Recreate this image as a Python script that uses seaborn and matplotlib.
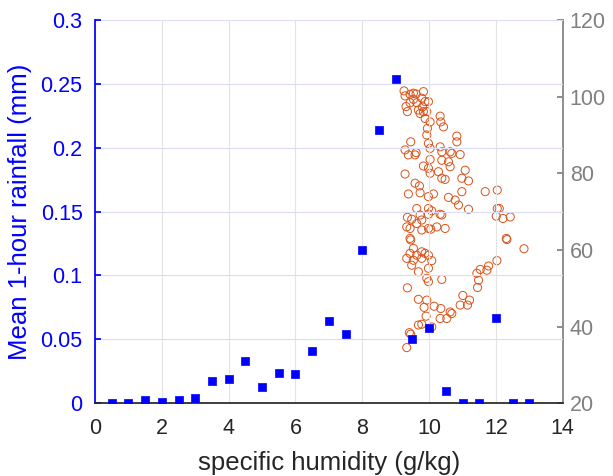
import matplotlib
matplotlib.use("Agg")
import matplotlib.pyplot as plt
import seaborn as sns
import pandas as pd

sns.set_theme(style="white")
plt.rcParams['font.family'] = ['Liberation Sans', 'DejaVu Sans']

# binned mean rainfall vs specific humidity (left axis)
hum_bins = [0.5, 1, 1.5, 2, 2.5, 3, 3.5, 4, 4.5, 5, 5.5, 6, 6.5,
            7, 7.5, 8, 8.5, 9, 9.5, 10, 10.5, 11, 11.5, 12, 12.5, 13]
mean_rain = [0.0, 0.0, 0.0026, 0.0008, 0.0026, 0.0037, 0.0175, 0.019, 0.0327,
             0.013, 0.024, 0.023, 0.0406, 0.064, 0.054, 0.12, 0.2135, 0.254,
             0.050, 0.059, 0.0097, 0.0, 0.0, 0.067, 0.0, 0.0]

# individual events (right axis)
event_q = [9.25, 9.28, 9.53, 9.61, 9.83, 9.78, 9.53, 9.43, 9.31, 9.35,
           9.63, 9.88, 9.98, 9.68, 9.83, 9.93, 9.88, 10.03, 10.33, 10.35,
           10.43, 9.95, 9.93, 9.45, 10.83, 10.83, 9.98, 10.03, 9.28, 9.38,
           9.58, 9.61, 10.33, 10.38, 10.63, 10.68, 10.93, 10.03, 9.83, 10.38,
           10.58, 10.63, 11.08, 9.28, 9.98, 10.03, 10.28, 10.38, 10.48, 10.98,
           11.18, 9.58, 9.71, 10.98, 9.43, 9.73, 9.80,
           9.38, 9.73, 9.98, 10.13, 10.58, 10.78, 10.88, 11.18, 11.68, 12.04,
           12.04, 12.10, 12.01, 12.21, 12.43, 9.63, 9.98, 10.08, 10.33, 10.38,
           9.35, 9.48, 9.73, 9.78, 9.98, 9.33, 9.43, 9.63, 9.78, 9.98,
           10.05, 10.23, 10.48, 9.43, 9.45, 9.53, 9.43, 9.63, 9.78, 9.88,
           9.98, 9.33, 9.53, 9.78, 10.08, 9.48, 9.68, 9.98, 9.93, 9.98,
           10.38, 9.35, 12.31, 12.33, 12.84, 12.03, 11.78, 11.73, 11.53, 11.43,
           11.48, 11.45, 11.01, 11.21, 11.15, 10.93, 9.68, 9.93, 9.85, 10.15,
           10.35, 10.63, 10.68, 10.53, 10.33, 9.91, 9.68, 9.78, 10.08, 9.41,
           9.45, 9.33]
event_rain = [101.5, 100.2, 100.9, 100.7, 101.3, 99.6, 99.3, 98.4, 97.4, 96.1,
              98.4, 98.7, 98.7, 96.5, 96.1, 96.1, 94.3, 93.4, 94.9, 93.4,
              92.1, 91.7, 90.0, 88.2, 89.7, 88.2, 87.8, 86.5, 86.1, 84.8,
              84.8, 85.4, 86.9, 85.6, 85.6, 85.2, 84.9, 83.6, 81.9, 83.4,
              83.0, 81.7, 80.8, 79.8, 81.3, 80.0, 80.4, 78.7, 78.4, 78.7,
              78.0, 77.4, 76.7, 75.2, 100.6, 95.6, 97.3,
              74.6, 74.9, 73.9, 74.6, 73.7, 73.0, 71.7, 70.6, 75.2, 75.6,
              70.8, 70.8, 68.8, 68.2, 68.6, 70.8, 70.8, 70.2, 69.3, 69.1,
              68.5, 68.0, 69.1, 67.8, 69.3, 66.0, 65.6, 66.9, 65.2, 65.6,
              65.4, 66.0, 65.6, 63.0, 62.6, 60.4, 59.1, 58.6, 59.5, 59.1,
              58.6, 57.8, 57.3, 57.8, 57.2, 56.0, 54.3, 55.2, 52.6, 51.7,
              52.3, 50.1, 63.0, 62.7, 60.3, 57.2, 55.8, 54.7, 54.9, 53.9,
              52.1, 50.2, 48.1, 46.9, 45.6, 45.6, 47.1, 46.9, 45.0, 45.3,
              44.7, 43.8, 43.4, 42.1, 42.1, 42.7, 40.4, 40.6, 39.9, 38.4,
              38.0, 34.5]

bins_df = pd.DataFrame({'q': hum_bins, 'rain': mean_rain})
events_df = pd.DataFrame({'q': event_q, 'rain': event_rain})

fig = plt.figure(figsize=(6.13, 4.76), dpi=100)
ax = fig.add_axes([0.155, 0.153, 0.763, 0.805])
ax2 = ax.twinx()

sns.scatterplot(data=events_df, x='q', y='rain', ax=ax2, marker='o', s=34,
                facecolors='none', edgecolor='#D95319', linewidth=0.7)
sns.scatterplot(data=bins_df, x='q', y='rain', ax=ax, marker='s', s=32,
                color='#0000FF', edgecolor='#0000FF', linewidth=0.5, zorder=5)

ax.set_zorder(ax2.get_zorder() + 1)
ax.patch.set_visible(False)

ax.set_xlim(0, 14)
ax.set_ylim(0, 0.3)
ax2.set_ylim(20, 120)
ax.set_xticks(range(0, 15, 2))
ax.set_yticks([0, 0.05, 0.1, 0.15, 0.2, 0.25, 0.3])
ax.set_yticklabels(['0', '0.05', '0.1', '0.15', '0.2', '0.25', '0.3'])
ax2.set_yticks(range(20, 121, 20))

ax.grid(True, axis='x', color='#e3e3e3', linewidth=0.8)
ax.grid(True, axis='y', color='#dcdcf5', linewidth=0.8)

ax.set_xlabel('specific humidity (g/kg)', fontsize=18.5, color='#262626', labelpad=8)
ax.set_ylabel('Mean 1-hour rainfall (mm)', fontsize=18.5, color='#0000FF', labelpad=6)
ax2.set_ylabel('')

ax.tick_params(axis='x', colors='#262626', labelsize=15.5, direction='in', length=4, pad=11)
ax.tick_params(axis='y', colors='#0000FF', labelsize=15.5, direction='in', length=4, pad=9)
ax2.tick_params(axis='y', colors='#808080', labelsize=15.5, direction='in', length=4, pad=5)

for a in (ax, ax2):
    a.spines['top'].set_visible(False)
ax.spines['left'].set_color('#0000FF')
ax.spines['bottom'].set_color('#262626')
ax.spines['right'].set_visible(False)
ax2.spines['left'].set_visible(False)
ax2.spines['bottom'].set_visible(False)
ax2.spines['right'].set_color('#808080')

fig.savefig('out.png', dpi=100)
